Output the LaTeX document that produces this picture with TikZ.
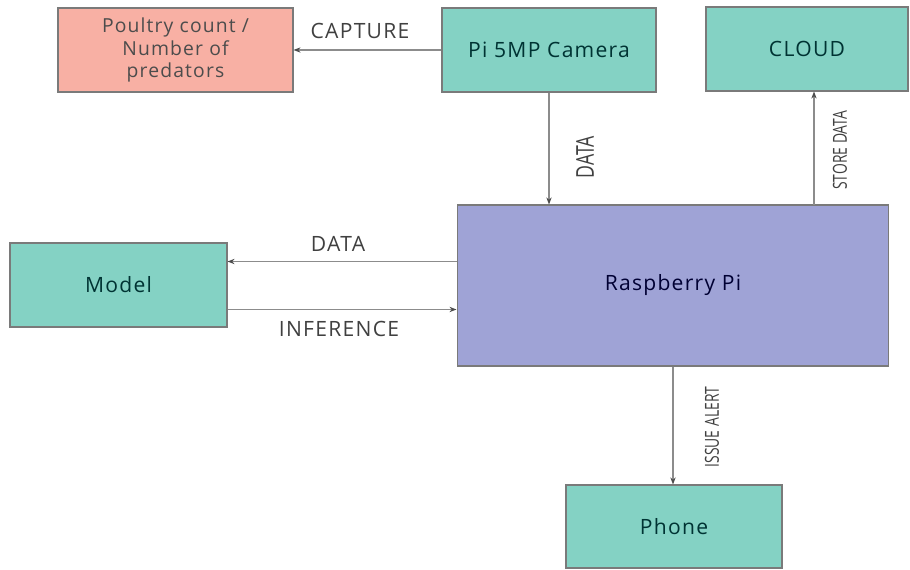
\documentclass[tikz,border=0pt]{standalone}
\usepackage{fontspec}
\setmainfont{Open Sans}
\newfontfamily\spacedfont[LetterSpace=6]{Open Sans}
\newfontfamily\condfont[FakeStretch=0.72]{Open Sans}
\usetikzlibrary{arrows.meta}

\definecolor{tealbox}{HTML}{84D2C4}
\definecolor{salmonbox}{HTML}{F8B0A4}
\definecolor{pibox}{HTML}{9FA3D6}
\definecolor{boxline}{HTML}{7A7A7A}
\definecolor{wire}{HTML}{8C8C8C}

\begin{document}
\begin{tikzpicture}[
    x=0.02cm, y=-0.02cm,
    box/.style={rectangle, draw=boxline, line width=0.6pt, inner sep=2pt, align=center,
        font=\spacedfont\fontsize{12}{14}\selectfont},
    tealnode/.style={box, fill=tealbox, text=teal!40!black},
    wirearrow/.style={draw=wire, line width=0.7pt, -{Stealth[length=4pt, width=3pt, black!70]}},
    lbl/.style={font=\spacedfont\fontsize{12}{14}\selectfont, text=black!75},
    vlbl/.style={font=\condfont\fontsize{11}{13}\selectfont, text=black!75, rotate=90}
]
\useasboundingbox (0,0) rectangle (910,570);

% blocks
\node[box, fill=salmonbox, text=black!70, font=\spacedfont\fontsize{11}{12.6}\selectfont,
    minimum width=4.7cm, minimum height=1.68cm] (poultry) at (175.5,50) {Poultry count /\\Number of\\predators};
\node[tealnode, minimum width=4.28cm, minimum height=1.68cm] (camera) at (549,50) {Pi 5MP Camera};
\node[tealnode, minimum width=4.04cm, minimum height=1.68cm] (cloud) at (807,49) {CLOUD};
\node[box, fill=pibox, text=blue!20!black, minimum width=8.64cm, minimum height=3.22cm] (rpi) at (673,285.5) {Raspberry Pi};
\node[tealnode, minimum width=4.34cm, minimum height=1.68cm] (model) at (118.5,285) {Model};
\node[tealnode, minimum width=4.32cm, minimum height=1.66cm] (phone) at (674,526.5) {Phone};

% connectors
\coordinate (storept) at (814,205);
\coordinate (dataout) at ([yshift=0.48cm]rpi.west);
\coordinate (infin) at ([yshift=-0.48cm]rpi.west);

\draw[wirearrow] (camera.west) -- node[lbl, above=3pt, xshift=-0.15cm] {CAPTURE} (poultry.east);
\draw[wirearrow] (camera.south) -- node[xshift=0.72cm, yshift=-0.17cm, vlbl, font=\condfont\fontsize{14}{16}\selectfont] {DATA} (camera.south |- rpi.north);
\draw[wirearrow] (storept) -- node[xshift=0.52cm, yshift=-0.04cm, vlbl] {STORE DATA} (storept |- cloud.south);
\draw[wirearrow] (dataout) -- node[lbl, above=2pt, xshift=-0.08cm] {DATA} (dataout -| model.east);
\draw[wirearrow] (infin -| model.east) -- node[lbl, below=3pt, xshift=-0.06cm] {INFERENCE} (infin);
\draw[wirearrow] (rpi.south) -- node[xshift=0.78cm, yshift=-0.03cm, vlbl] {ISSUE ALERT} (rpi.south |- phone.north);

\end{tikzpicture}
\end{document}
